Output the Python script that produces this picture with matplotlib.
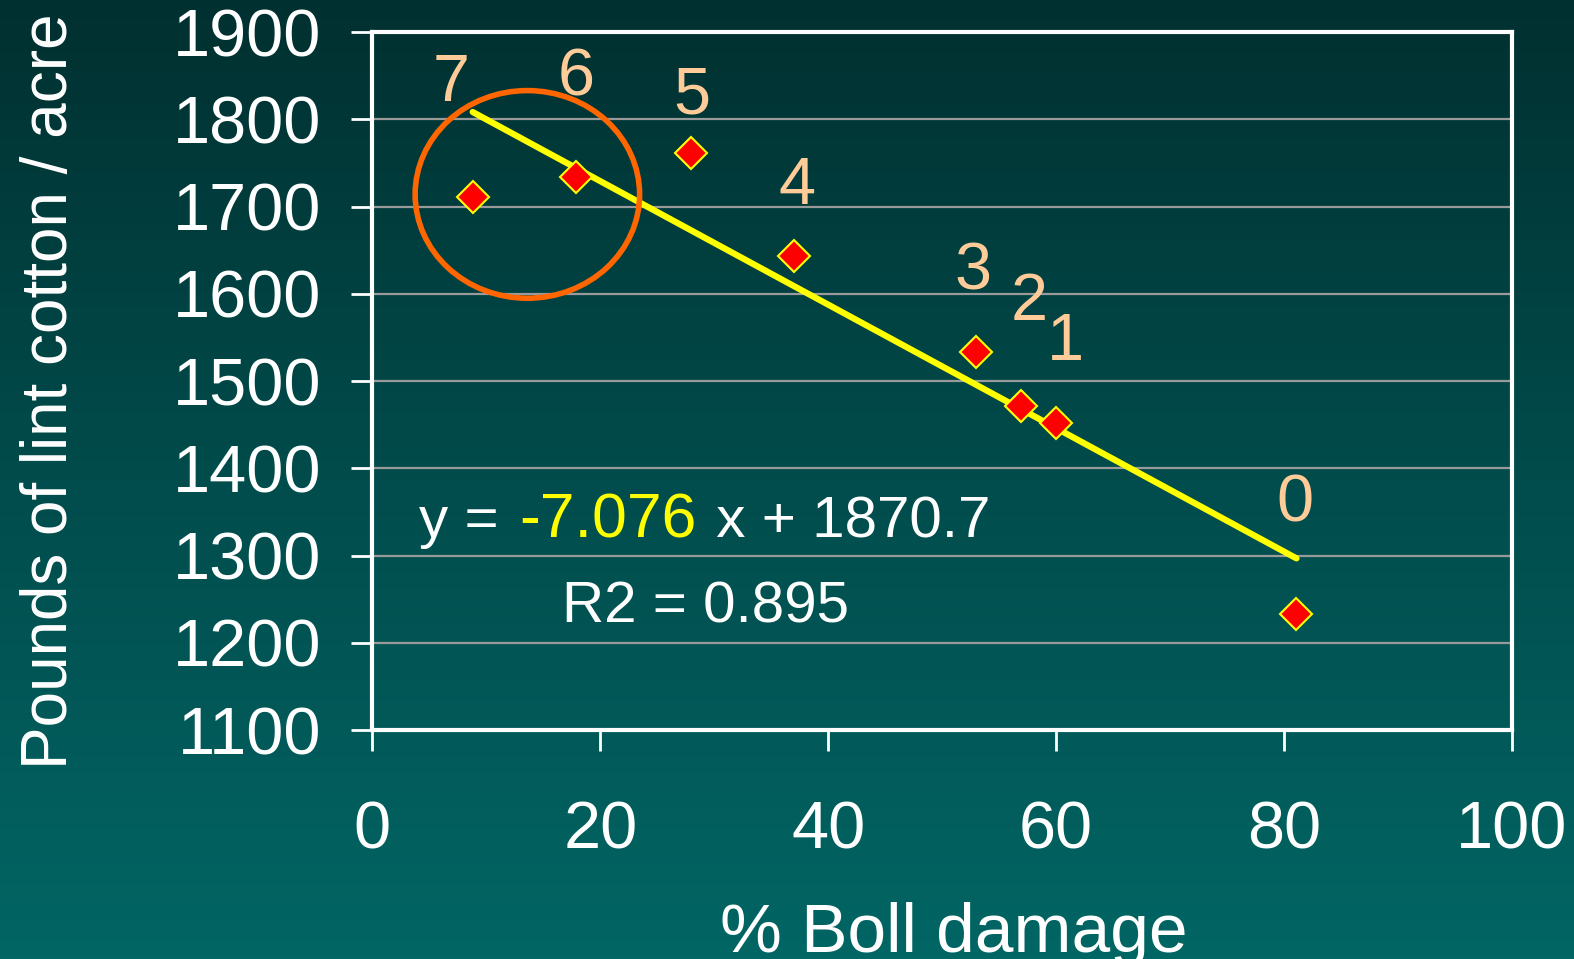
import numpy as np
import matplotlib.pyplot as plt
from matplotlib.patches import Ellipse
from matplotlib.colors import LinearSegmentedColormap

plt.rcParams['font.family'] = ['Liberation Sans', 'DejaVu Sans']

# data
damage = [8.8, 17.9, 28.0, 37.0, 53.0, 56.9, 60.0, 81.1]
yield_lbs = [1711, 1734, 1761, 1643, 1533, 1472, 1452, 1233]
labels = ['7', '6', '5', '4', '3', '2', '1', '0']
label_x = [6.9, 17.9, 28.0, 37.3, 52.7, 57.6, 60.8, 81.0]
label_y = [1840, 1847, 1826, 1723, 1625, 1589, 1544, 1358]

slope = -7.076
intercept = 1870.7
r2 = 0.895

fig = plt.figure(figsize=(15.74, 9.59), dpi=100)

# teal gradient background
bg = fig.add_axes([0, 0, 1, 1], zorder=-10)
grad = np.linspace(0, 1, 256).reshape(-1, 1)
cmap = LinearSegmentedColormap.from_list('teal', ['#013030', '#014c4c', '#026664'])
bg.imshow(grad, aspect='auto', cmap=cmap, extent=[0, 1, 0, 1], origin='upper')
bg.axis('off')

ax = fig.add_axes([0.2366, 0.2387, 0.9605 - 0.2366, 0.9665 - 0.2387])
ax.set_facecolor('none')

ax.set_xlim(0, 100)
ax.set_ylim(1100, 1900)
ax.set_xticks(range(0, 101, 20))
ax.set_yticks(range(1100, 1901, 100))
ax.yaxis.grid(True, color='#9a9a9a', linewidth=1.6)
ax.set_axisbelow(True)

for s in ax.spines.values():
    s.set_color('white')
    s.set_linewidth(3)

ax.tick_params(axis='both', colors='white', width=2, length=15, labelsize=48)
ax.tick_params(axis='x', pad=36)
ax.tick_params(axis='y', pad=22)

# trend line
xs = np.array([min(damage), max(damage)])
ax.plot(xs, slope * xs + intercept, color='#ffff00', linewidth=4.5, solid_capstyle='round', zorder=2)

ax.plot(damage, yield_lbs, linestyle='none', marker='D', markersize=16,
        markerfacecolor='#ff0000', markeredgecolor='#ffff00', markeredgewidth=1.5, zorder=3)

for t, lx, ly in zip(labels, label_x, label_y):
    ax.text(lx, ly, t, color='#ffcc99', fontsize=48, ha='center', va='center')

ax.add_patch(Ellipse((13.6, 1714), 19.7, 238, fill=False, edgecolor='#ff6600', linewidth=4, zorder=4))

# equation, pieces placed one after another on the same baseline
renderer = fig.canvas.get_renderer()
parts = [('y = ', 'white', 42), ('%.3f' % slope, '#ffff00', 45), (' x + %.1f' % intercept, 'white', 42)]
xpos = 4.1
for txt, col, size in parts:
    t = ax.text(xpos, 1321, txt, color=col, fontsize=size, va='baseline')
    bb = t.get_window_extent(renderer)
    xpos = ax.transData.inverted().transform((bb.x1 + 4, bb.y0))[0]
ax.text(16.6, 1223, 'R2 = %.3f' % r2, color='white', fontsize=42, va='baseline')

ax.set_xlabel('% Boll damage', color='white', fontsize=50, labelpad=28, x=0.51)
ax.set_ylabel('Pounds of lint cotton / acre', color='white', fontsize=46)
ax.yaxis.set_label_coords(-0.257, 0.485)

fig.savefig('out.png', dpi=100)
